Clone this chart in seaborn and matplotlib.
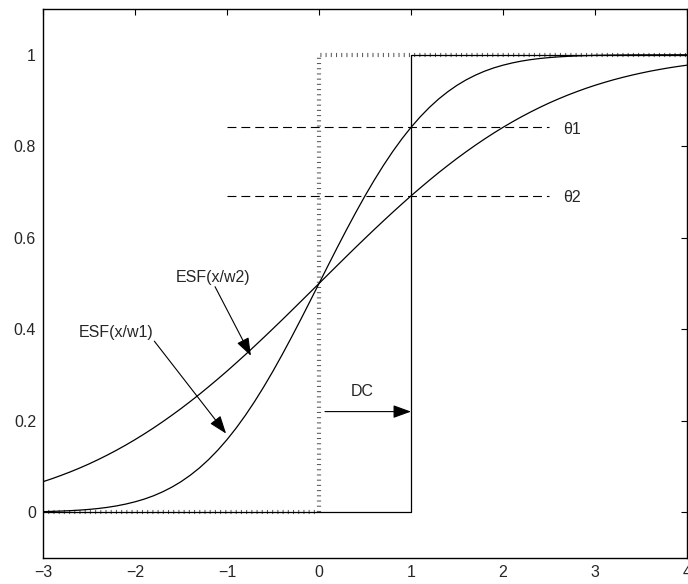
import matplotlib
matplotlib.use("Agg")
import matplotlib.pyplot as plt
import seaborn as sns
import pandas as pd

# ---- data ----
x_curve = [-3.0, -2.9, -2.8, -2.7, -2.6, -2.5, -2.4, -2.3, -2.2, -2.1,
           -2.0, -1.9, -1.8, -1.7, -1.6, -1.5, -1.4, -1.3, -1.2, -1.1,
           -1.0, -0.9, -0.8, -0.7, -0.6, -0.5, -0.4, -0.3, -0.2, -0.1,
           0.0, 0.1, 0.2, 0.3, 0.4, 0.5, 0.6, 0.7, 0.8, 0.9,
           1.0, 1.1, 1.2, 1.3, 1.4, 1.5, 1.6, 1.7, 1.8, 1.9,
           2.0, 2.1, 2.2, 2.3, 2.4, 2.5, 2.6, 2.7, 2.8, 2.9,
           3.0, 3.1, 3.2, 3.3, 3.4, 3.5, 3.6, 3.7, 3.8, 3.9, 4.0]
esf_w1 = [0.0013, 0.0019, 0.0026, 0.0035, 0.0047, 0.0062, 0.0082, 0.0107, 0.0139, 0.0179,
          0.0228, 0.0287, 0.0359, 0.0446, 0.0548, 0.0668, 0.0808, 0.0968, 0.1151, 0.1357,
          0.1587, 0.1841, 0.2119, 0.2420, 0.2743, 0.3085, 0.3446, 0.3821, 0.4207, 0.4602,
          0.5000, 0.5398, 0.5793, 0.6179, 0.6554, 0.6915, 0.7257, 0.7580, 0.7881, 0.8159,
          0.8413, 0.8643, 0.8849, 0.9032, 0.9192, 0.9332, 0.9452, 0.9554, 0.9641, 0.9713,
          0.9772, 0.9821, 0.9861, 0.9893, 0.9918, 0.9938, 0.9953, 0.9965, 0.9974, 0.9981,
          0.9987, 0.9990, 0.9993, 0.9995, 0.9997, 0.9998, 0.9998, 0.9999, 0.9999, 1.0000, 1.0000]
esf_w2 = [0.0668, 0.0735, 0.0808, 0.0885, 0.0968, 0.1056, 0.1151, 0.1251, 0.1357, 0.1469,
          0.1587, 0.1711, 0.1841, 0.1977, 0.2119, 0.2266, 0.2420, 0.2578, 0.2743, 0.2912,
          0.3085, 0.3264, 0.3446, 0.3632, 0.3821, 0.4013, 0.4207, 0.4404, 0.4602, 0.4801,
          0.5000, 0.5199, 0.5398, 0.5596, 0.5793, 0.5987, 0.6179, 0.6368, 0.6554, 0.6736,
          0.6915, 0.7088, 0.7257, 0.7422, 0.7580, 0.7734, 0.7881, 0.8023, 0.8159, 0.8289,
          0.8413, 0.8531, 0.8643, 0.8749, 0.8849, 0.8944, 0.9032, 0.9115, 0.9192, 0.9265,
          0.9332, 0.9394, 0.9452, 0.9505, 0.9554, 0.9599, 0.9641, 0.9678, 0.9713, 0.9744, 0.9772]

step0_x = [-3, 0, 0, 4]
step0_y = [0, 0, 1, 1]
step1_x = [-3, 1, 1, 4]
step1_y = [0, 0, 1, 1]

theta_levels = [0.8413, 0.6915]
theta_labels = ["θ1", "θ2"]
theta_x = [-1.0, 2.5]

x_ticks = [-3, -2, -1, 0, 1, 2, 3, 4]
y_ticks = [0, 0.2, 0.4, 0.6, 0.8, 1]
y_ticklabels = ["0", "0.2", "0.4", "0.6", "0.8", "1"]

# ---- figure ----
sns.set_theme(style="white")
plt.rcParams["font.family"] = ["Liberation Sans", "DejaVu Sans"]

fig = plt.figure(figsize=(6.88, 5.84), dpi=100)
ax = fig.add_axes([43 / 688, 1 - 558 / 584, (687 - 43) / 688, (558 - 9) / 584])

df = pd.DataFrame({"x": x_curve, "w1": esf_w1, "w2": esf_w2})

# dotted ideal step at 0
sns.lineplot(x=step0_x, y=step0_y, ax=ax, sort=False, estimator=None, color="0.35",
             lw=3.0, linestyle=(0, (0.25, 1.0)), dash_capstyle="butt")
# solid shifted step at 1
sns.lineplot(x=step1_x, y=step1_y, ax=ax, sort=False, estimator=None, color="black", lw=0.9)
# ESF curves
sns.lineplot(data=df, x="x", y="w1", ax=ax, sort=False, estimator=None, color="black", lw=0.9)
sns.lineplot(data=df, x="x", y="w2", ax=ax, sort=False, estimator=None, color="black", lw=0.9)

# threshold dashed lines
for lev, lab in zip(theta_levels, theta_labels):
    sns.lineplot(x=theta_x, y=[lev, lev], ax=ax, sort=False, estimator=None, color="black",
                 lw=0.8, linestyle=(0, (8, 4.5)))
    ax.text(2.75, lev - 0.004, lab, ha="center", va="center", fontsize=11.5)

# annotations
arrow = dict(arrowstyle="-|>,head_length=0.55,head_width=0.2", mutation_scale=20,
             lw=0.8, color="black", shrinkA=0, shrinkB=0)
ax.text(-1.15, 0.513, "ESF(x/w2)", ha="center", va="center", fontsize=11.5)
ax.annotate("", xy=(-0.74, 0.342), xytext=(-1.13, 0.493), arrowprops=arrow)
ax.text(-2.21, 0.393, "ESF(x/w1)", ha="center", va="center", fontsize=11.5)
ax.annotate("", xy=(-1.01, 0.172), xytext=(-1.79, 0.374), arrowprops=arrow)
ax.text(0.47, 0.264, "DC", ha="center", va="center", fontsize=11.5)
ax.annotate("", xy=(1.0, 0.22), xytext=(0.065, 0.22), arrowprops=arrow)

ax.set_xlim(-3, 4)
ax.set_ylim(-0.1, 1.1)
ax.set_xticks(x_ticks)
ax.set_yticks(y_ticks)
ax.set_yticklabels(y_ticklabels)
ax.set_xlabel("")
ax.set_ylabel("")
ax.tick_params(direction="in", top=True, right=True, length=4, width=0.8,
               labelsize=11.5, color="black", pad=5)
for s in ax.spines.values():
    s.set_color("black")
    s.set_linewidth(1.0)

fig.savefig("out.png", dpi=100)
